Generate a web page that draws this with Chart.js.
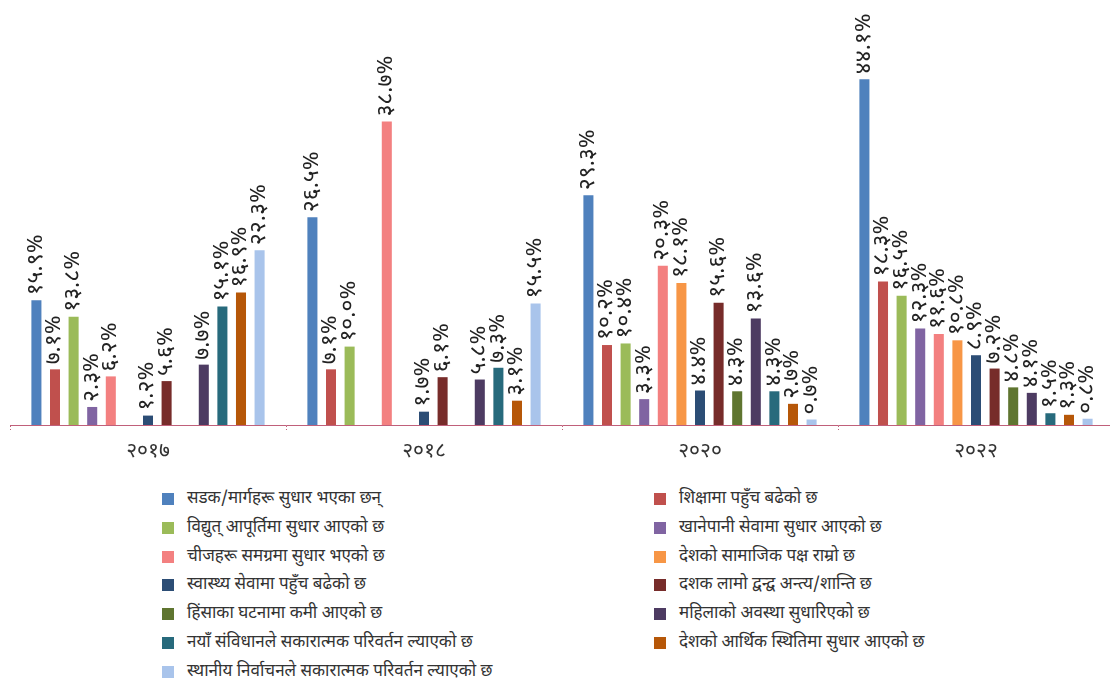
<!DOCTYPE html>
<html>
<head>
<meta charset="utf-8">
<script src="https://cdn.jsdelivr.net/npm/chart.js@4.4.1/dist/chart.umd.min.js"></script>
<style>
  html, body { margin:0; padding:0; background:#fff; width:1110px; height:680px; overflow:hidden; }
  #wrap { position:relative; width:1110px; height:680px; overflow:hidden; }
  #c { position:absolute; left:0; top:0; }
  .leg { position:absolute; font-family:"Noto Sans Devanagari","Lohit Devanagari","Noto Sans","Mukta","FreeSans",sans-serif; font-size:17px; color:#333; white-space:nowrap; line-height:20px; }
  .leg span.box { position:absolute; width:12px; height:12px; left:0; top:4px; }
  .leg span.txt { position:absolute; left:25px; top:0; }
</style>
</head>
<body>
<div id="wrap">
<canvas id="c" width="1114" height="470" style="width:1114px;height:470px"></canvas>
<div id="legend"></div>
</div>
<script>
const categories = ["2017", "2018", "2020", "2022"];
const seriesNames = [
  "सडक/मार्गहरू सुधार भएका छन्",
  "शिक्षामा पहुँच बढेको छ",
  "विद्युत् आपूर्तिमा सुधार आएको छ",
  "खानेपानी सेवामा सुधार आएको छ",
  "चीजहरू समग्रमा सुधार भएको छ",
  "देशको सामाजिक पक्ष राम्रो छ",
  "स्वास्थ्य सेवामा पहुँच बढेको छ",
  "दशक लामो द्वन्द्व अन्त्य/शान्ति छ",
  "हिंसाका घटनामा कमी आएको छ",
  "महिलाको अवस्था सुधारिएको छ",
  "नयाँ संविधानले सकारात्मक परिवर्तन ल्याएको छ",
  "देशको आर्थिक स्थितिमा सुधार आएको छ",
  "स्थानीय निर्वाचनले सकारात्मक परिवर्तन ल्याएको छ"
];
const roads       = [15.9, 26.5, 29.3, 44.1];
const education   = [7.1, 7.1, 10.2, 18.3];
const electricity = [13.8, 10.0, 10.4, 16.5];
const water       = [2.3, null, 3.3, 12.3];
const overall     = [6.2, 38.7, 20.3, 11.6];
const social      = [null, null, 18.1, 10.8];
const health      = [1.2, 1.7, 4.4, 8.9];
const peace       = [5.6, 6.1, 15.6, 7.2];
const violence    = [null, null, 4.3, 4.8];
const women       = [7.7, 5.8, 13.6, 4.1];
const constitution= [15.1, 7.3, 4.3, 1.5];
const economy     = [16.9, 3.1, 2.7, 1.3];
const localElect  = [22.3, 15.5, 0.7, 0.8];
const seriesValues = [roads, education, electricity, water, overall, social, health, peace, violence, women, constitution, economy, localElect];
const colors = ["#4f81bd","#c0504d","#9bbb59","#8064a2","#f38080","#f79646","#2c4d75","#772c2a","#5f7530","#4d3b62","#276a7c","#b65708","#a9c4eb"];

const devDigits = "०१२३४५६७८९";
function toDev(s){ return String(s).replace(/[0-9]/g, d => devDigits[+d]); }

const FONT = '"Noto Sans Devanagari","Lohit Devanagari","Noto Sans","Mukta","FreeSans",sans-serif';

const labelPlugin = {
  id: 'barLabels',
  afterDatasetsDraw(chart) {
    const ctx = chart.ctx;
    ctx.save();
    ctx.font = '23px ' + FONT;
    ctx.fillStyle = '#222';
    ctx.textAlign = 'left';
    ctx.textBaseline = 'middle';
    chart.data.datasets.forEach((ds, i) => {
      const meta = chart.getDatasetMeta(i);
      meta.data.forEach((bar, j) => {
        const v = ds.data[j];
        if (v === null || v === undefined) return;
        ctx.save();
        ctx.translate(bar.x + 1, bar.y - 5);
        ctx.rotate(-Math.PI / 2);
        ctx.fillText(toDev(v.toFixed(1)) + '%', 0, 0);
        ctx.restore();
      });
    });
    ctx.restore();
  }
};

const chart = new Chart(document.getElementById('c'), {
  type: 'bar',
  data: {
    labels: categories.map(toDev),
    datasets: seriesValues.map((vals, i) => ({
      label: seriesNames[i],
      data: vals,
      backgroundColor: colors[i],
      borderWidth: 0,
      categoryPercentage: 0.876,
      barPercentage: 0.54
    }))
  },
  options: {
    responsive: false,
    animation: false,
    layout: { padding: { left: 10, right: 0, top: 33, bottom: 0 } },
    plugins: { legend: { display: false }, tooltip: { enabled: false } },
    scales: {
      x: {
        afterFit(s) { s.height = 45; },
        grid: { display: true, drawOnChartArea: false, drawTicks: true, tickLength: 7, tickColor: '#c0607a', tickBorderDash: [1, 2], tickWidth: 1 },
        border: { display: true, color: '#c0607a', dash: [2, 2], width: 1 },
        ticks: { color: '#333', font: { size: 21, family: FONT }, padding: 8 }
      },
      y: { display: false, min: 0, max: 50 }
    }
  },
  plugins: [labelPlugin]
});

// legend (two columns) built from the chart's datasets
const leg = document.getElementById('legend');
const leftOrder = [0, 2, 4, 6, 8, 10, 12];
const rightOrder = [1, 3, 5, 7, 9, 11];
function addItem(idx, x, y) {
  const d = document.createElement('div');
  d.className = 'leg';
  d.style.left = x + 'px';
  d.style.top = (y - 10) + 'px';
  d.innerHTML = '<span class="box" style="background:' + chart.data.datasets[idx].backgroundColor + '"></span><span class="txt"></span>';
  d.querySelector('.txt').textContent = chart.data.datasets[idx].label;
  leg.appendChild(d);
}
leftOrder.forEach((idx, r) => addItem(idx, 162, 499 + r * 28.8));
rightOrder.forEach((idx, r) => addItem(idx, 654, 499 + r * 28.8));
</script>
</body>
</html>
